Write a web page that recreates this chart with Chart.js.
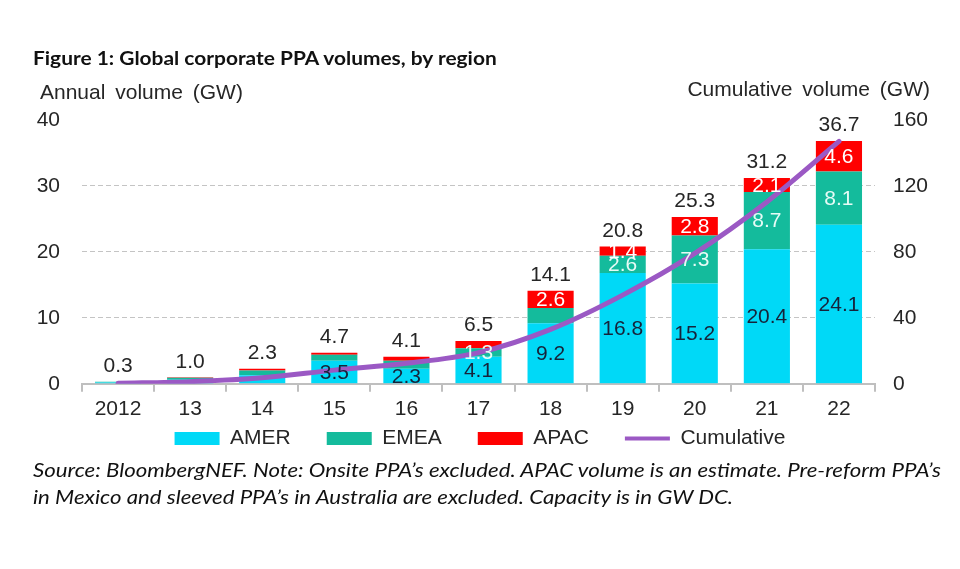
<!DOCTYPE html>
<html>
<head>
<meta charset="utf-8">
<script src="https://cdn.jsdelivr.net/npm/chart.js@4"></script>
<style>
  html, body { margin: 0; padding: 0; background: #fff; }
  #wrap { position: relative; width: 960px; height: 569px; overflow: hidden; }
  #ppaChart { position: absolute; left: 0; top: 0; }
  .txt { position: absolute; white-space: nowrap; color: #262626; transform-origin: left top; }
  #title { left: 33px; top: 47px; font: bold 18.5px Lato, sans-serif; color: #111; transform: scaleX(1.13); }
  #yTitle { left: 40px; top: 80px; font: 21px "Liberation Sans", Arial, sans-serif; word-spacing: 4px; }
  #y2Title { right: 30px; top: 77px; font: 21px "Liberation Sans", Arial, sans-serif; word-spacing: 4px; }
  #source { left: 33px; top: 456px; font: italic 19px Lato, sans-serif; line-height: 27px; color: #111; transform: scaleX(1.17); }
</style>
</head>
<body>
<div id="wrap">
  <canvas id="ppaChart" width="960" height="569"></canvas>
  <div class="txt" id="title">Figure 1: Global corporate PPA volumes, by region</div>
  <div class="txt" id="yTitle">Annual volume (GW)</div>
  <div class="txt" id="y2Title">Cumulative volume (GW)</div>
  <div class="txt" id="source">Source: BloombergNEF. Note: Onsite PPA’s excluded. APAC volume is an estimate. Pre-reform PPA’s<br>in Mexico and sleeved PPA’s in Australia are excluded. Capacity is in GW DC.</div>
</div>
<script>
// chart data
const years = ['2012', '13', '14', '15', '16', '17', '18', '19', '20', '21', '22'];
const amer = [0.2, 0.6, 1.3, 3.5, 2.3, 4.1, 9.2, 16.8, 15.2, 20.4, 24.1];
const emea = [0.1, 0.3, 0.7, 0.9, 1.2, 1.3, 2.3, 2.6, 7.3, 8.7, 8.1];
const apac = [0.0, 0.1, 0.3, 0.3, 0.6, 1.1, 2.6, 1.4, 2.8, 2.1, 4.6];
const totals = [0.3, 1.0, 2.3, 4.7, 4.1, 6.5, 14.1, 20.8, 25.3, 31.2, 36.7];
const cumulative = [0.3, 1.3, 3.6, 8.3, 12.4, 18.9, 33.0, 53.8, 79.1, 110.3, 147.0];
const annualTicks = [0, 10, 20, 30, 40];
const cumulTicks = [0, 40, 80, 120, 160];

// which segment values are printed in the original
const amerShown = [0, 0, 0, 1, 1, 1, 1, 1, 1, 1, 1];
const emeaShown = [0, 0, 0, 0, 0, 1, 0, 1, 1, 1, 1];
const apacShown = [0, 0, 0, 0, 0, 0, 1, 1, 1, 1, 1];

const FONT = '"Liberation Sans", Arial, sans-serif';
const TXT = '#262626';

const segLabels = {
    id: 'segLabels',
    afterDatasetsDraw(chart) {
        const ctx = chart.ctx;
        const shown = [amerShown, emeaShown, apacShown];
        const colors = ['#16233a', '#e6fbf6', '#ffffff'];
        ctx.save();
        ctx.font = '21px ' + FONT;
        ctx.textAlign = 'center';
        ctx.textBaseline = 'middle';
        for (let d = 0; d < 3; d++) {
            const meta = chart.getDatasetMeta(d);
            meta.data.forEach((bar, i) => {
                if (!shown[d][i]) return;
                ctx.fillStyle = colors[d];
                const v = chart.data.datasets[d].data[i];
                ctx.fillText(v.toFixed(1), bar.x, (bar.y + bar.base) / 2 + 1);
            });
        }
        // totals above the stacks
        const top = chart.getDatasetMeta(2);
        ctx.fillStyle = TXT;
        ctx.textBaseline = 'bottom';
        top.data.forEach((bar, i) => {
            ctx.fillText(totals[i].toFixed(1), bar.x, bar.y - 5);
        });
        ctx.restore();
    }
};

const ctx = document.getElementById('ppaChart').getContext('2d');
new Chart(ctx, {
    type: 'bar',
    data: {
        labels: years,
        datasets: [
            { label: 'AMER', data: amer, backgroundColor: '#00d9f7', stack: 's' },
            { label: 'EMEA', data: emea, backgroundColor: '#14bb9c', stack: 's' },
            { label: 'APAC', data: apac, backgroundColor: '#ff0000', stack: 's' },
            {
                type: 'line', label: 'Cumulative', data: cumulative, yAxisID: 'y2',
                borderColor: '#9b59c4', backgroundColor: '#9b59c4', borderWidth: 5,
                borderCapStyle: 'round', pointRadius: 0, cubicInterpolationMode: 'monotone',
                order: -1
            }
        ]
    },
    options: {
        responsive: false,
        animation: false,
        layout: { padding: { top: 120, bottom: 110, left: 0, right: 0 } },
        datasets: { bar: { barPercentage: 0.64, categoryPercentage: 1 } },
        scales: {
            x: {
                stacked: true,
                grid: { offset: true, drawOnChartArea: false, tickLength: 8, color: '#bfbfbf', lineWidth: 2 },
                border: { display: true, color: '#bfbfbf', width: 2 },
                ticks: { font: { family: FONT, size: 21 }, color: TXT, padding: 5, maxRotation: 0 }
            },
            y: {
                stacked: true, min: 0, max: 40,
                afterBuildTicks(scale) { scale.ticks = annualTicks.map(v => ({ value: v })); },
                grid: {
                    drawTicks: false, lineWidth: 1,
                    color: c => (c.tick && c.tick.value > 0 && c.tick.value < 40) ? '#c4c4c4' : 'rgba(0,0,0,0)'
                },
                border: { display: false, dash: [5, 3] },
                ticks: { font: { family: FONT, size: 21 }, color: TXT, padding: 22 },
                afterFit(scale) { scale.width = 82; }
            },
            y2: {
                position: 'right', min: 0, max: 160,
                afterBuildTicks(scale) { scale.ticks = cumulTicks.map(v => ({ value: v })); },
                grid: { display: false, drawTicks: false },
                border: { display: false },
                ticks: { font: { family: FONT, size: 21 }, color: TXT, padding: 18 },
                afterFit(scale) { scale.width = 85; }
            }
        },
        plugins: {
            tooltip: { enabled: false },
            legend: {
                position: 'bottom',
                labels: {
                    font: { family: FONT, size: 21 }, color: TXT,
                    usePointStyle: true, pointStyleWidth: 45, boxHeight: 13, padding: 1,
                    sort: (a, b) => a.datasetIndex - b.datasetIndex,
                    generateLabels(chart) {
                        const items = Chart.defaults.plugins.legend.labels.generateLabels(chart);
                        items.forEach(it => {
                            if (it.datasetIndex === 3) { it.pointStyle = 'line'; it.lineWidth = 4; }
                            else { it.pointStyle = 'rect'; it.lineWidth = 0; it.text += '      '; }
                        });
                        return items;
                    }
                }
            }
        }
    },
    plugins: [segLabels]
});
</script>
</body>
</html>
